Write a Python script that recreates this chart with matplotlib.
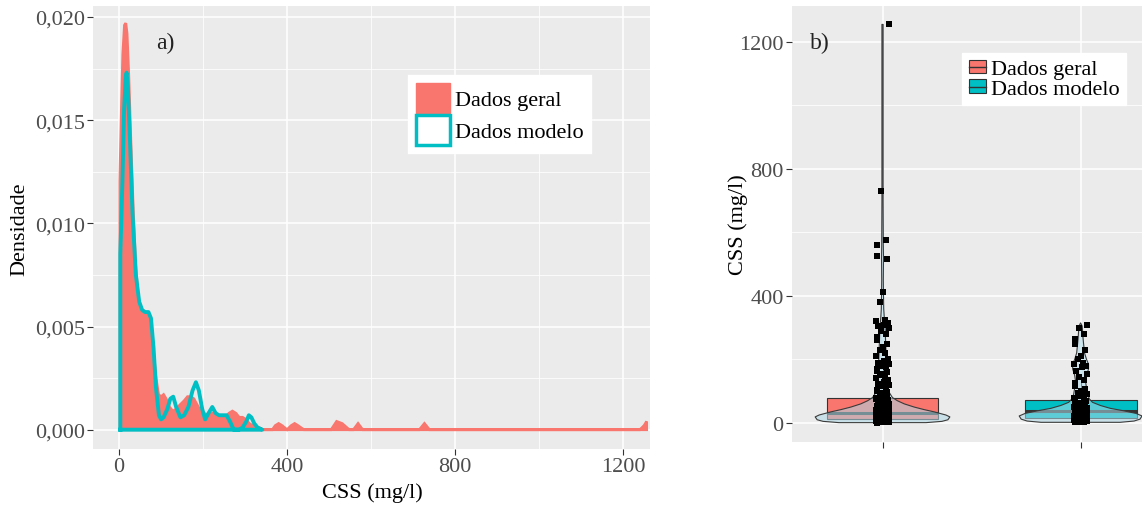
import matplotlib
matplotlib.use('Agg')
import matplotlib.pyplot as plt
from matplotlib.patches import Patch
from matplotlib.lines import Line2D
import numpy as np

plt.rcParams['font.family'] = ['Liberation Serif', 'DejaVu Serif']

RED = '#F8766D'
TEAL = '#00BFC4'

# --- panel a): density curves (CSS mg/l vs density)
geral_x = [2, 5, 9, 13, 16, 19, 23, 28, 34, 40, 47, 55, 63, 70, 76, 82, 88, 94, 100, 106,
           112, 120, 128, 136, 145, 155, 163, 170, 178, 186, 194, 202, 212, 222, 232, 242,
           252, 262, 270, 278, 286, 294, 302, 310, 318, 326, 334, 342, 352, 365, 372, 380,
           388, 400, 410, 418, 426, 440, 505, 518, 531, 548, 558, 569, 580, 715, 727, 739,
           1240, 1250, 1256]
geral_d = [0.0120, 0.0150, 0.0182, 0.0196, 0.0197, 0.0192, 0.0172, 0.0140, 0.0105, 0.0078,
           0.0062, 0.0057, 0.0056, 0.0055, 0.0050, 0.0038, 0.0025, 0.0017, 0.0016, 0.0017,
           0.0015, 0.0011, 0.0009, 0.0010, 0.0012, 0.0014, 0.0016, 0.0016, 0.0015, 0.0012,
           0.0009, 0.0008, 0.0007, 0.0008, 0.0007, 0.0006, 0.0006, 0.0008, 0.0009, 0.0008,
           0.0006, 0.0006, 0.0005, 0.0003, 0.0002, 0.0001, 0.0001, 0.0, 0.0, 0.0,
           0.0002, 0.0003, 0.0002, 0.0, 0.0002, 0.0003, 0.0002, 0.0, 0.0, 0.0004,
           0.0003, 0.0, 0.0, 0.0003, 0.0, 0.0, 0.0003, 0.0, 0.0, 0.0002, 0.0004]

modelo_x = [3, 8, 12, 16, 18, 21, 26, 32, 40, 48, 55, 62, 70, 76, 82, 88, 95, 100, 106, 115,
            122, 129, 136, 146, 155, 165, 175, 183, 190, 198, 205, 213, 222, 230, 238, 248,
            256, 264, 273, 285, 294, 303, 309, 315, 322, 330, 341]
modelo_d = [0.0085, 0.0120, 0.0155, 0.0171, 0.0173, 0.0166, 0.0140, 0.0105, 0.0075, 0.0062,
            0.0058, 0.0057, 0.0057, 0.0054, 0.0040, 0.0020, 0.0007, 0.0005, 0.0006, 0.0010,
            0.0015, 0.0016, 0.0011, 0.0006, 0.0007, 0.0011, 0.0019, 0.0023, 0.0019, 0.0010,
            0.0005, 0.0008, 0.0011, 0.0008, 0.0007, 0.0007, 0.0007, 0.0004, 0.0000, 0.0000,
            0.0001, 0.0004, 0.0007, 0.0006, 0.0003, 0.0001, 0.0000]

labels = ['Dados geral', 'Dados modelo']
xticks_a = [0, 400, 800, 1200]
yticks_a = [0.0, 0.005, 0.010, 0.015, 0.020]
ytick_labels_a = ['0,000', '0,005', '0,010', '0,015', '0,020']

# --- panel b): box + violin + jitter
box_q1 = [12, 15]
box_med = [30, 38]
box_q3 = [78, 72]
whisk_lo = [1, 2]
whisk_hi = [175, 155]

viol_geral_y = [1, 5, 10, 19, 25, 30, 35, 42, 50, 60, 70, 80, 95, 115, 140, 170, 200, 250,
                300, 330, 360, 400, 450, 520, 560, 700, 1000, 1255]
viol_geral_w = [0.22, 0.30, 0.33, 0.34, 0.32, 0.29, 0.26, 0.21, 0.16, 0.11, 0.075, 0.05,
                0.035, 0.026, 0.022, 0.021, 0.019, 0.016, 0.013, 0.009, 0.006, 0.005, 0.004,
                0.005, 0.004, 0.003, 0.003, 0.003]
viol_modelo_y = [2, 6, 12, 22, 30, 38, 46, 55, 65, 75, 90, 110, 130, 150, 170, 185, 200, 220,
                 250, 270, 290, 305, 315]
viol_modelo_w = [0.20, 0.27, 0.30, 0.31, 0.28, 0.22, 0.15, 0.10, 0.06, 0.045, 0.035, 0.03,
                 0.025, 0.03, 0.04, 0.04, 0.03, 0.02, 0.015, 0.012, 0.01, 0.008, 0.0]

pts_geral = [1, 2, 3, 3, 4, 5, 5, 6, 7, 8, 8, 9, 10, 10, 11, 12, 12, 13, 14, 15, 15, 16, 17,
             18, 18, 19, 20, 20, 21, 22, 23, 24, 25, 25, 26, 27, 28, 29, 30, 31, 32, 33, 34,
             35, 36, 38, 40, 42, 44, 46, 48, 50, 52, 55, 58, 60, 63, 66, 70, 74, 78, 82, 86,
             90, 2, 4, 6, 9, 11, 14, 16, 19, 22, 24, 27, 30, 34, 37, 41, 45, 49, 54, 59, 65,
             72, 80, 88, 92, 95, 98, 102, 105, 110, 115, 118, 122, 128, 135, 140, 145, 150,
             155, 160, 165, 170, 175, 180, 185, 190, 195, 200, 210, 220, 230, 240, 250, 260,
             270, 280, 290, 300, 305, 310, 315, 320, 325, 382, 412, 515, 525, 560, 575, 730,
             1255]
pts_modelo = [2, 3, 4, 5, 6, 7, 8, 9, 10, 11, 12, 13, 14, 15, 16, 17, 18, 19, 20, 21, 22, 23,
              24, 25, 27, 29, 31, 33, 35, 37, 40, 43, 46, 50, 54, 58, 62, 66, 70, 75, 80, 85,
              90, 3, 6, 9, 12, 15, 18, 21, 24, 28, 32, 36, 41, 47, 53, 60, 68, 77, 86, 95,
              100, 108, 115, 125, 135, 145, 155, 165, 175, 180, 185, 190, 200, 210, 230, 250,
              265, 280, 300, 310]
jitter = [-0.03, 0.017, -0.007, 0.034, -0.021, 0.007, 0.027, -0.034, 0.013, -0.015, 0.0,
          0.022, -0.026]

W, H = 1142, 506
fig = plt.figure(figsize=(W / 100, H / 100), dpi=100)


def fx(px):
    return px / W


def fy(py):
    return 1 - py / H


def ggstyle(ax):
    ax.set_facecolor('#EBEBEB')
    for s in ax.spines.values():
        s.set_visible(False)
    ax.grid(which='major', color='white', lw=1.1)
    ax.grid(which='minor', color='white', lw=0.55)
    ax.set_axisbelow(True)
    ax.tick_params(which='major', length=4, width=0.8, color='#333333',
                   labelcolor='#4D4D4D', labelsize=16, pad=2)
    ax.tick_params(which='minor', length=0)


ax1 = fig.add_axes([fx(93), fy(450), 557 / W, 443 / H])
ggstyle(ax1)

xs = [geral_x[0]] + geral_x + [geral_x[-1]]
ys = [0] + geral_d + [0]
ax1.fill(xs, ys, facecolor=RED, edgecolor=RED, lw=2, zorder=3)
xs = [modelo_x[0]] + modelo_x + [modelo_x[-1], modelo_x[0]]
ys = [0] + modelo_d + [0, 0]
ax1.plot(xs, ys, color=TEAL, lw=2.8, zorder=4, solid_joinstyle='round')

ax1.set_xlim(-62, 1264)
ax1.set_ylim(-0.000935, 0.02053)
ax1.set_xticks(xticks_a)
ax1.set_xticks([200, 600, 1000], minor=True)
ax1.set_yticks(yticks_a)
ax1.set_yticklabels(ytick_labels_a)
ax1.set_yticks([0.0025, 0.0075, 0.0125, 0.0175], minor=True)

ax1.legend(handles=[Patch(facecolor=RED, edgecolor=RED),
                    Patch(facecolor='white', edgecolor=TEAL, lw=2.5)],
           labels=labels, loc='upper left', bbox_to_anchor=(fx(408), fy(76)),
           bbox_transform=fig.transFigure, fontsize=16, fancybox=False,
           edgecolor='white', framealpha=1, borderpad=0.35, handlelength=1.55,
           handleheight=1.7, handletextpad=0.2, labelspacing=0.1, borderaxespad=0)

fig.text(fx(372), fy(493), 'CSS (mg/l)', ha='center', va='center', fontsize=16)
fig.text(fx(20), fy(229), 'Densidade', ha='center', va='center', rotation=90, fontsize=16)
fig.text(fx(165), fy(43), 'a)', ha='center', va='center', fontsize=17, color='#222222')

ax2 = fig.add_axes([fx(792), fy(443), 350 / W, 436 / H])
ggstyle(ax2)

cols = [RED, TEAL]
for i, c in enumerate([1, 2]):
    ax2.vlines(c, whisk_lo[i], box_q1[i], color='#333333', lw=0.8, zorder=2)
    ax2.vlines(c, box_q3[i], whisk_hi[i], color='#333333', lw=0.8, zorder=2)
    ax2.bar(c, box_q3[i] - box_q1[i], bottom=box_q1[i], width=0.565, color=cols[i],
            edgecolor='#333333', lw=0.8, zorder=2)
    ax2.hlines(box_med[i], c - 0.2825, c + 0.2825, color='#333333', lw=2.2, zorder=2)

for c, vy, vw in [(1, viol_geral_y, viol_geral_w), (2, viol_modelo_y, viol_modelo_w)]:
    vy = np.array(vy)
    vw = np.array(vw)
    ax2.fill_betweenx(vy, c - vw, c + vw, facecolor='#ADD8E6', alpha=0.55,
                      edgecolor='none', zorder=3)
    ax2.fill_betweenx(vy, c - vw, c + vw, facecolor='none', edgecolor='#3a3a3a',
                      lw=0.8, zorder=3)

for c, pts in [(1, pts_geral), (2, pts_modelo)]:
    px = [c + jitter[k % len(jitter)] for k in range(len(pts))]
    ax2.plot(px, pts, 's', color='black', ms=3.8, mew=0, zorder=4)

ax2.set_xlim(0.543, 2.31)
ax2.set_ylim(-60, 1313)
ax2.set_xticks([1, 2])
ax2.set_xticklabels(['', ''])
ax2.set_yticks([0, 400, 800, 1200])
ax2.set_yticks([200, 600, 1000], minor=True)

h1 = (Patch(facecolor=RED, edgecolor='#333333', lw=0.8), Line2D([], [], color='#333333', lw=1))
h2 = (Patch(facecolor=TEAL, edgecolor='#333333', lw=0.8), Line2D([], [], color='#333333', lw=1))
ax2.legend(handles=[h1, h2], labels=labels, loc='upper left',
           bbox_to_anchor=(fx(962), fy(54)), bbox_transform=fig.transFigure,
           fontsize=16, fancybox=False, edgecolor='white', framealpha=1,
           borderpad=0.3, handlelength=0.8, handleheight=0.55, handletextpad=0.2,
           labelspacing=0.0, borderaxespad=0)

fig.text(fx(738), fy(225), 'CSS (mg/l)', ha='center', va='center', rotation=90, fontsize=16)
fig.text(fx(820), fy(43), 'b)', ha='center', va='center', fontsize=17, color='#222222')

fig.savefig('out.png', dpi=100)
